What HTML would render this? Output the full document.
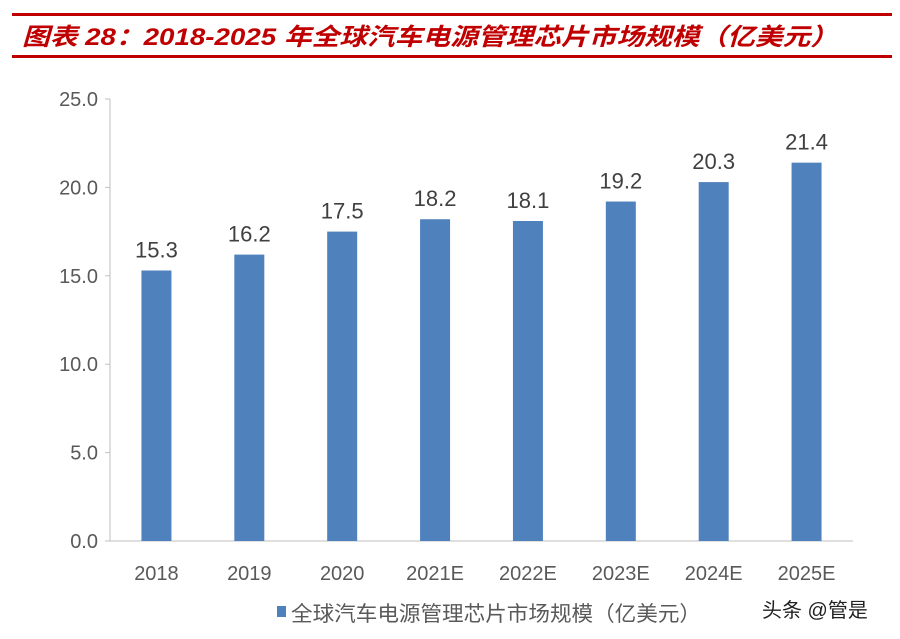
<!DOCTYPE html>
<html><head><meta charset="utf-8"><style>
body{margin:0;background:#fff;}
svg{display:block;font-family:"Liberation Sans","Noto Sans CJK SC",sans-serif;}
</style></head><body>
<svg id="c" width="900" height="639">
<rect x="12" y="13" width="880" height="3" fill="#c00000"/>
<rect x="12" y="55" width="880" height="3" fill="#c00000"/>
<text x="22" y="45" font-size="24" font-style="italic" font-weight="bold" fill="#c00000" textLength="816" lengthAdjust="spacingAndGlyphs">图表 28：2018-2025 年全球汽车电源管理芯片市场规模（亿美元）</text>
<g id="plot"></g>
<rect x="277" y="606" width="9" height="11" fill="#4f81bd"/>
<text x="291" y="621" font-size="21" fill="#595959" textLength="410" lengthAdjust="spacingAndGlyphs">全球汽车电源管理芯片市场规模（亿美元）</text>
<text x="762" y="617" font-size="20" fill="#222">头条 @管是</text>
</svg>
<script>
const categories=["2018","2019","2020","2021E","2022E","2023E","2024E","2025E"];
const values=[15.3,16.2,17.5,18.2,18.1,19.2,20.3,21.4];
const yTicks=[0,5,10,15,20,25];
const yTickLabels=["0.0","5.0","10.0","15.0","20.0","25.0"];
const NS="http://www.w3.org/2000/svg";
const g=document.getElementById('plot');
const x0=110,x1=853,yBase=541,yTop=99,yMax=25;
const y=v=>yBase-(yBase-yTop)*v/yMax;
const step=(x1-x0)/categories.length;
const xc=i=>x0+step*(i+0.5);
function mk(t,a){const e=document.createElementNS(NS,t);for(const k in a)e.setAttribute(k,a[k]);g.appendChild(e);return e;}
let ax=mk('line',{x1:x0,y1:yTop,x2:x0,y2:yBase,stroke:'#bfbfbf','stroke-width':1});


let bx=mk('line',{x1:x0,y1:yBase,x2:x1,y2:yBase,stroke:'#bfbfbf','stroke-width':1});


yTicks.forEach((t,i)=>{
 const tk=mk('line',{x1:x0-5,y1:y(t),x2:x0,y2:y(t),stroke:'#bfbfbf'});
 
 
 const l=mk('text',{x:x0-12,y:y(t)+7,'text-anchor':'end','font-size':20,fill:'#595959'});
 l.textContent=yTickLabels[i];
 
 
});
categories.forEach((c,i)=>{
 const v=values[i],w=30;
 const r=mk('rect',{x:xc(i)-w/2,y:y(v),width:w,height:yBase-y(v),fill:'#4f81bd'});
 
 
 const vl=mk('text',{x:xc(i),y:y(v)-13,'text-anchor':'middle','font-size':22,fill:'#404040'});
 vl.textContent=v.toFixed(1);
 
 
 const cl=mk('text',{x:xc(i),y:yBase+39,'text-anchor':'middle','font-size':20,fill:'#595959'});
 cl.textContent=c;
 
 
});
</script>
</body></html>
